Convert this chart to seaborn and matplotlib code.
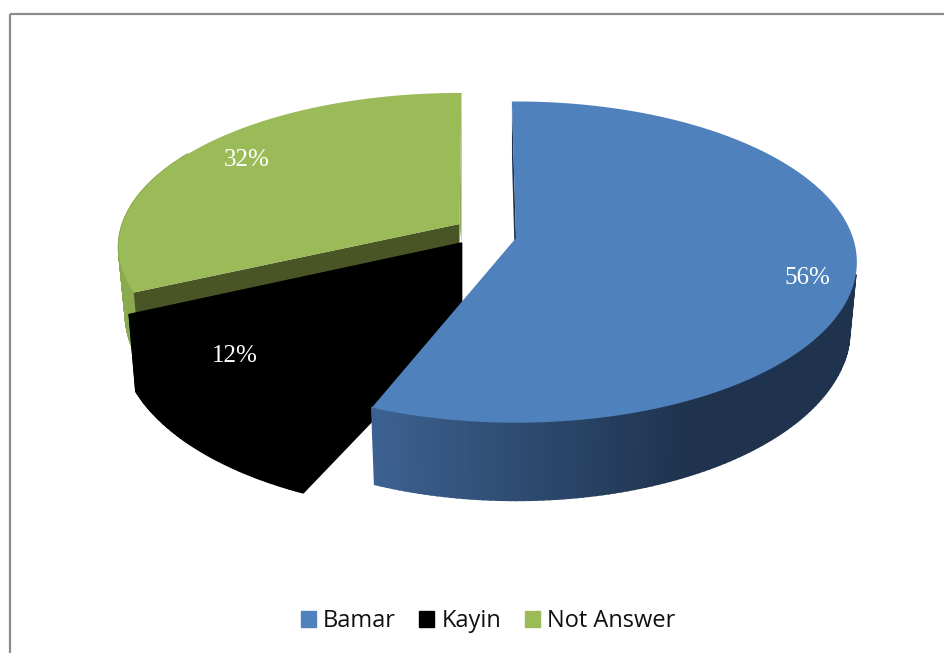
import numpy as np
import matplotlib
matplotlib.use("Agg")
import matplotlib.pyplot as plt
import seaborn as sns
from matplotlib.patches import Patch, Rectangle

# Chart data
categories = ["Bamar", "Kayin", "Not Answer"]
shares = [56, 12, 32]
pct_labels = ["56%", "12%", "32%"]

# Colours per slice (top face, then wall shades)
palette = sns.color_palette(["#4F81BD", "#000000", "#9BBB59"])

# 3D look of the pie, in pixels
RX, RY, PERSP = 337, 157, 0.15
# apex x, apex y, x scale, y scale, depth
blue_geo = (516, 238, 1.0, 1.0, 66)
black_geo = (461.5, 243, 1.02, 1.0, 72)
green_geo = (459.5, 224, 1.0, 0.96, 66)
label_pos = [(807, 278), (235, 356), (247, 160)]


def project(geo, deg, depth=0.0):
    """Map angle (clockwise from top) on the rim of a slice to pixels."""
    ax0, ay0, sx, sy, drop = geo
    deg = np.asarray(deg, dtype=float)
    x, y = np.sin(np.radians(deg)), np.cos(np.radians(deg))
    w = 1 + PERSP * y
    px = sx * RX * x / w * (1 - 0.02 * depth)
    py = -sy * RY * y / w + depth * drop / w
    return ax0 + px, ay0 + py


def slice_top(ax, geo, a0, a1, color):
    t = np.linspace(a0, a1, 200)
    px, py = project(geo, t)
    ax.fill(np.r_[geo[0], px], np.r_[geo[1], py], color=color, lw=0, zorder=3)


def slice_wall(ax, geo, a0, a1, shade, n=100):
    """Outer wall as thin quads so that it can carry a gradient."""
    t = np.linspace(a0, a1, n + 1)
    xt, yt = project(geo, t)
    xb, yb = project(geo, t, 1.0)
    for i in range(n):
        c = shade((t[i] + t[i + 1]) / 2)
        ax.fill([xt[i], xt[i + 1], xb[i + 1], xb[i]],
                [yt[i], yt[i + 1], yb[i + 1], yb[i]],
                color=c, lw=1.2, zorder=2)


def radial_face(ax, geo, ang, color, drop=None, lw=0):
    x1, y1 = project(geo, ang)
    x2, y2 = project(geo, ang, 1.0)
    oy = geo[1] + (geo[4] if drop is None else drop)
    ax.fill([geo[0], x1, x2, geo[0]], [geo[1], y1, y2, oy], color=color, lw=lw, zorder=2)


def blue_shade(ang):
    # lighter on the left end of the wall, dark towards the right
    f = np.clip((202 - ang) / 47, 0, 1)
    light = np.array([0x3D, 0x62, 0x92]) / 255
    dark = np.array([0x1F, 0x33, 0x4E]) / 255
    return tuple(light + (dark - light) * f)


sns.set_theme(style="white")
plt.rcParams["font.family"] = ["Open Sans", "DejaVu Sans"]

fig, ax = plt.subplots(figsize=(9.44, 6.53), dpi=100)
fig.subplots_adjust(0, 0, 1, 1)
ax.set_xlim(0, 944)
ax.set_ylim(653, 0)
ax.axis("off")

# Frame, runs off the right and bottom of the picture
ax.add_patch(Rectangle((10, 14), 1000, 700, fill=False, ec="#8C8C8C", lw=1.6, zorder=1))

# Slice angles come from the shares
edges = np.r_[0, np.cumsum(shares)] * 3.6
a_blue = (edges[0] - 0.8, edges[1])
a_black = (edges[1] + 2.3, edges[2])
a_green = (edges[2], edges[3] + 0.4)

# Green goes first, then black, then blue on top
slice_wall(ax, green_geo, a_green[0], 300, lambda a: "#8BA94F")
radial_face(ax, green_geo, a_green[0], "#4A5526")
rim_x, rim_y = project(green_geo, a_green[1])
ax.fill([rim_x, green_geo[0], black_geo[0]], [rim_y, green_geo[1], black_geo[1]],
        color="#8BA94F", lw=0, zorder=2)
slice_top(ax, green_geo, a_green[0], a_green[1], palette[2])

slice_wall(ax, black_geo, a_black[0], a_black[1], lambda a: "#000000")
radial_face(ax, black_geo, a_black[0], "#000000", drop=85, lw=1)
radial_face(ax, black_geo, a_black[1], "#000000", lw=1)
slice_top(ax, black_geo, a_black[0], a_black[1], palette[1])

radial_face(ax, blue_geo, a_blue[0], "#1F334E")
slice_wall(ax, blue_geo, 103, a_blue[1], blue_shade)
slice_top(ax, blue_geo, a_blue[0], a_blue[1], palette[0])

for lab, (lx, ly) in zip(pct_labels, label_pos):
    ax.text(lx, ly, lab, color="white", ha="center", va="center", fontsize=18,
            family=["Liberation Serif"], zorder=5)

handles = [Patch(color=c, label=n) for c, n in zip(palette, categories)]
ax.legend(handles=handles, ncol=3, loc="center", bbox_to_anchor=(488 / 944, 1 - 621 / 653),
          frameon=False, fontsize=17, handlelength=0.64, handleheight=0.64,
          handletextpad=0.3, columnspacing=1.0, labelcolor="#111111")

fig.savefig("out.png", dpi=100)
